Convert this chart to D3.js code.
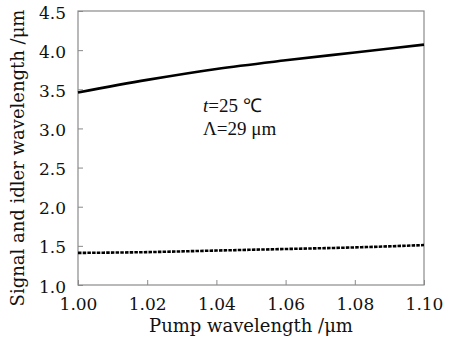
<!DOCTYPE html>
<html>
<head>
<meta charset="utf-8">
<script src="https://cdn.jsdelivr.net/npm/d3@7"></script>
<style>
  body { margin: 0; background: #fff; }
  svg { display: block; }
</style>
</head>
<body>
<svg id="chart" width="467" height="341"></svg>
<script>
// pump wavelength (um)
const pump = [1.00, 1.02, 1.04, 1.06, 1.08, 1.10];
// idler (upper, solid) and signal (lower, dashed) wavelengths (um)
const idler = [3.46, 3.62, 3.76, 3.87, 3.97, 4.07];
const signal = [1.41, 1.42, 1.44, 1.46, 1.48, 1.51];
const xTicks = [1.00, 1.02, 1.04, 1.06, 1.08, 1.10];
const yTicks = [1.0, 1.5, 2.0, 2.5, 3.0, 3.5, 4.0, 4.5];

const margin = { top: 11, right: 43, bottom: 56, left: 78 };
const width = 467 - margin.left - margin.right;
const height = 341 - margin.top - margin.bottom;

const svg = d3.select('#chart');
const ctx = svg.append('g')
  .attr('transform', `translate(${margin.left},${margin.top})`);

const xScale = d3.scaleLinear().domain([1.0, 1.1]).range([0, width]);
const yScale = d3.scaleLinear().domain([1.0, 4.5]).range([height, 0]);

const axisColor = '#8a8a8a';
const serif = "'DejaVu Serif', serif";
const timesFont = "'Liberation Serif', serif";

// frame
ctx.append('rect')
  .attr('x', 0).attr('y', 0)
  .attr('width', width).attr('height', height)
  .attr('fill', 'none')
  .attr('stroke', axisColor)
  .attr('stroke-width', 1.2);

// x axis, ticks pointing inward
const xAxis = d3.axisBottom(xScale)
  .tickValues(xTicks)
  .tickSize(-5)
  .tickPadding(13)
  .tickFormat(d3.format('.2f'));
const xAxisG = ctx.append('g')
  .attr('transform', `translate(0,${height})`)
  .call(xAxis);

const yAxis = d3.axisLeft(yScale)
  .tickValues(yTicks)
  .tickSize(-5)
  .tickPadding(12)
  .tickFormat(d3.format('.1f'));
const yAxisG = ctx.append('g').call(yAxis);

[xAxisG, yAxisG].forEach(g => {
  g.attr('font-family', null).attr('font-size', null);
  g.select('.domain').remove();
  g.selectAll('.tick line').attr('stroke', axisColor).attr('stroke-width', 1);
  g.selectAll('.tick text')
    .style('font-family', serif)
    .style('font-size', '17px')
    .attr('fill', '#111');
});
yAxisG.selectAll('.tick text').attr('dy', '0.42em');

const line = d3.line()
  .x((d, i) => xScale(pump[i]))
  .y(d => yScale(d))
  .curve(d3.curveMonotoneX);

ctx.append('path')
  .datum(idler)
  .attr('d', line)
  .attr('fill', 'none')
  .attr('stroke', '#000')
  .attr('stroke-width', 2.6);

ctx.append('path')
  .datum(signal)
  .attr('d', line)
  .attr('fill', 'none')
  .attr('stroke', '#000')
  .attr('stroke-width', 2.6)
  .attr('stroke-dasharray', '3.5,1.2');

// annotation
const note = ctx.append('text')
  .attr('x', 203 - margin.left)
  .attr('y', 112 - margin.top)
  .style('font-family', timesFont)
  .style('font-size', '19px')
  .attr('fill', '#111');
note.append('tspan').style('font-style', 'italic').text('t');
note.append('tspan').text('=25 ℃');

ctx.append('text')
  .attr('x', 203 - margin.left)
  .attr('y', 135 - margin.top)
  .style('font-family', timesFont)
  .style('font-size', '19px')
  .attr('fill', '#111')
  .text('Λ=29 μm');

// axis labels
svg.append('text')
  .attr('x', margin.left + width / 2)
  .attr('y', 332)
  .attr('text-anchor', 'middle')
  .style('font-family', serif)
  .style('font-size', '18px')
  .attr('fill', '#111')
  .text('Pump wavelength /μm');

svg.append('text')
  .attr('transform', `translate(24,${158}) rotate(-90)`)
  .attr('text-anchor', 'middle')
  .style('font-family', serif)
  .style('font-size', '18px')
  .attr('fill', '#111')
  .text('Signal and idler wavelength /μm');
</script>
</body>
</html>
